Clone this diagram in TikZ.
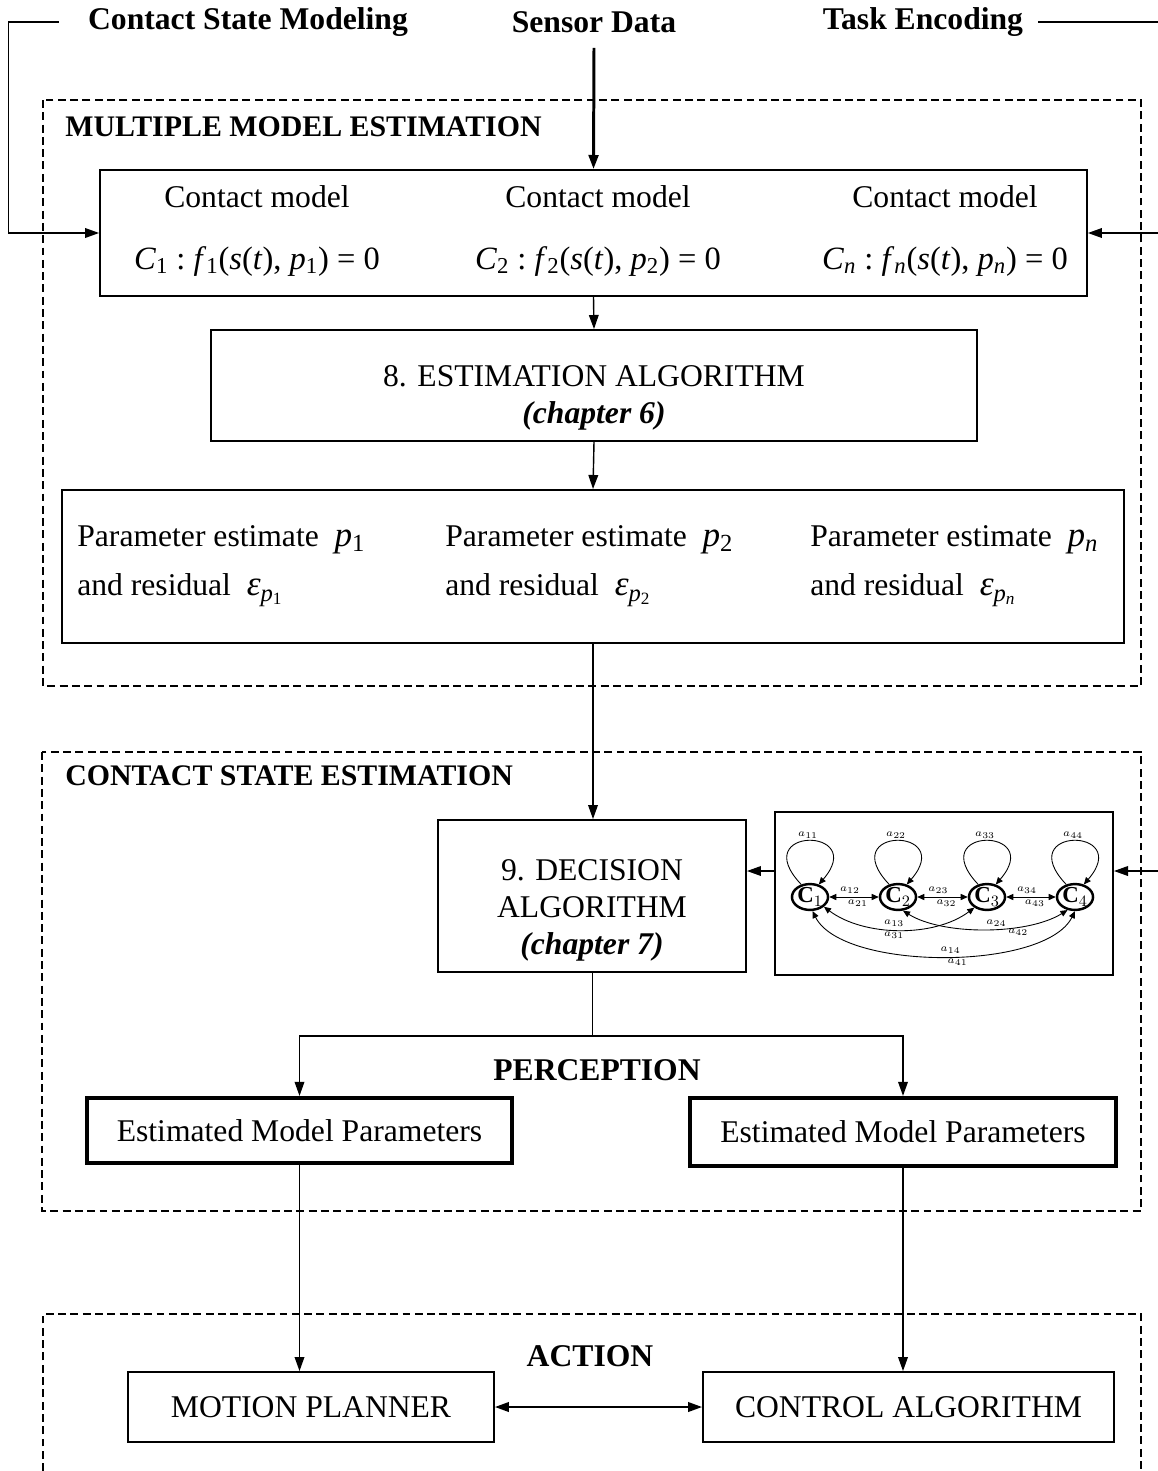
\documentclass[tikz,border=0pt]{standalone}
\usepackage{fontspec}
\setmainfont{Liberation Serif}
\usetikzlibrary{arrows.meta,shapes.geometric}

% italic symbols set in the text font
\newcommand{\iv}[1]{\textit{#1}}
\newcommand{\cmodel}[1]{\iv{C}\textsubscript{#1}~:~\iv{f}\textsubscript{#1}(\iv{s}(\iv{t}),~\iv{p}\textsubscript{#1})~=~0}

\tikzset{
  lbl/.style={font=\fontsize{18}{22}\selectfont\bfseries, inner sep=0pt},
  ttl/.style={font=\fontsize{17}{20}\selectfont\bfseries, anchor=west, inner sep=0pt},
  txt/.style={font=\fontsize{18}{21}\selectfont, align=center, inner sep=0pt},
  ptxt/.style={font=\fontsize{18}{28}\selectfont, align=left, anchor=west, inner sep=0pt},
  box/.style={draw, line width=1.1pt, inner sep=0pt},
  heavybox/.style={draw, line width=2.4pt, inner sep=0pt, font=\fontsize{18}{21}\selectfont},
  zone/.style={dash pattern=on 4.5pt off 2.5pt, line width=0.8pt},
  arr/.style={-{Triangle[length=8pt,width=5.5pt]}, line width=0.8pt},
  dblarr/.style={{Triangle[length=8pt,width=5.5pt]}-{Triangle[length=8pt,width=5.5pt]}, line width=1.1pt},
  st/.style={ellipse, draw, line width=1.4pt, minimum width=0.66cm, minimum height=0.48cm,
    inner sep=0pt, font=\fontsize{13}{13}\selectfont},
  tr/.style={{Triangle[length=4pt,width=3.5pt]}-{Triangle[length=4pt,width=3.5pt]}, line width=0.5pt},
  lp/.style={-{Triangle[length=4pt,width=3.5pt]}, line width=0.5pt},
  ww/.style={font=\fontsize{6}{6}\selectfont, inner sep=0.3pt}
}

\begin{document}
\begin{tikzpicture}[x=0.02cm,y=-0.02cm]
  \useasboundingbox (0,0) rectangle (1158,1471);

  % inputs on top
  \node[lbl, inner xsep=0.58cm] (csm) at (248,22) {Contact State Modeling};
  \node[lbl, inner ysep=0.3cm] (sd) at (594,22) {Sensor Data};
  \node[lbl, inner xsep=0.3cm] (te) at (923,22) {Task Encoding};
  \coordinate (rim) at (1162,22);
  \coordinate (mkin) at (1162,871);

  % multiple model estimation
  \draw[zone] (43,100) rectangle (1141,686);
  \node[ttl] (mmeT) at (65,127) {MULTIPLE MODEL ESTIMATION};
  \node[box, minimum width=19.74cm, minimum height=2.52cm] (cm) at (593.5,233) {};
  \foreach \k/\xx/\s in {1/257/1, 2/598/2, 3/945/\iv{n}}
    \node[txt] (cm\k) at (\xx,231) {Contact model\\[14pt] {\fontsize{18.5}{22}\selectfont\cmodel{\s}}};
  \node[box, minimum width=15.32cm, minimum height=2.22cm] (est) at (594,385.5) {};
  \node[txt] (estT) at (594,398) {8. ESTIMATION ALGORITHM\\ \textbf{\textit{(chapter 6)}}};
  \node[box, minimum width=21.24cm, minimum height=3.06cm] (par) at (593,566.5) {};
  \foreach \k/\xx/\s in {1/77/1, 2/445/2, 3/810/\iv{n}}
    \node[ptxt] (par\k) at (\xx,566) {Parameter estimate~~{\fontsize{20}{20}\selectfont\iv{p}\textsubscript{\s}}\\
      and residual~~{\fontsize{20}{20}\selectfont\iv{ε}\textsubscript{\iv{p}\textsubscript{\s}}}};

  % contact state estimation
  \draw[zone] (42,752) rectangle (1141,1211);
  \node[ttl] (cseT) at (65,776) {CONTACT STATE ESTIMATION};
  \node[box, minimum width=6.16cm, minimum height=3.04cm] (dec) at (592,896) {};
  \node[txt] (decT) at (592,910) {9. DECISION\\ALGORITHM\\\textbf{\textit{(chapter 7)}}};
  \node[box, minimum width=6.76cm, minimum height=3.26cm] (mk) at (944,893.5) {};
  % transition graph
  \foreach \i/\xx in {1/810,2/898,3/987,4/1075} {
    \node[st] (m\i) at (\xx,897) {$\mathbf{C}_{\i}$};
    \draw[lp] (m\i.125) .. controls +(-55,-58) and +(50,-58) .. (m\i.55)
      node[pos=.5,above=1pt,ww] {$a_{\i\i}$};
  }
  \foreach \i/\j in {1/2,2/3,3/4}
    \draw[tr] (m\i) -- (m\j) node[pos=.42,above=1.2pt,ww] {$a_{\i\j}$} node[pos=.58,below=1.2pt,ww] {$a_{\j\i}$};
  \draw[tr] (m1.-35) .. controls +(40,30) and +(-40,30) .. (m3.-140)
    node[pos=.47,above=1pt,ww] {$a_{13}$} node[pos=.47,below=1pt,ww] {$a_{31}$};
  \draw[tr] (m2.-70) .. controls +(40,25) and +(-40,25) .. (m4.-120)
    node[pos=.56,above=1pt,ww] {$a_{24}$} node[pos=.68,below=1pt,ww] {$a_{42}$};
  \draw[tr] (m1.-80) .. controls +(30,60) and +(-30,60) .. (m4.-90)
    node[pos=.52,above=1pt,ww] {$a_{14}$} node[pos=.54,below=1pt,ww] {$a_{41}$};
  \node[lbl] (perc) at (597,1070) {PERCEPTION};
  \node[heavybox, minimum width=8.5cm, minimum height=1.3cm] (empL) at (299.5,1130.5) {Estimated Model Parameters};
  \node[heavybox, minimum width=8.52cm, minimum height=1.36cm] (empR) at (903,1132) {Estimated Model Parameters};

  % action
  \draw[zone] (43,1471) |- (1141,1314) -- (1141,1471);
  \node[lbl] (act) at (590,1356) {ACTION};
  \node[box, txt, minimum width=7.32cm, minimum height=1.4cm] (mp) at (311,1407) {MOTION PLANNER};
  \node[box, txt, minimum width=8.22cm, minimum height=1.4cm] (ca) at (908.5,1407) {CONTROL ALGORITHM};

  % connectors
  \draw[arr] (csm.west) -- ++(-50,0) |- (cm.west);
  \draw[arr] (te.east) -- (rim) |- (cm.east);
  \draw[arr, line width=1.7pt] (sd.south) -- (cm.north);
  \draw[arr] (cm.south) -- (est.north);
  \draw[arr] (est.south) -- (par.north);
  \draw[arr] (par.south) -- (par.south |- dec.north);
  \draw[arr] (mkin) -- (mkin -| mk.east);
  \draw[arr] (mk.west |- mkin) -- (dec.east |- mkin);
  \draw (dec.south) -- ++(0,63) coordinate (fork);
  \draw[arr] (fork) -| (empL.north);
  \draw[arr] (fork) -| (empR.north);
  \draw[arr] (empL.south) -- (empL.south |- mp.north);
  \draw[arr] (empR.south) -- (empR.south |- ca.north);
  \draw[dblarr] (mp.east) -- (ca.west);
\end{tikzpicture}
\end{document}
